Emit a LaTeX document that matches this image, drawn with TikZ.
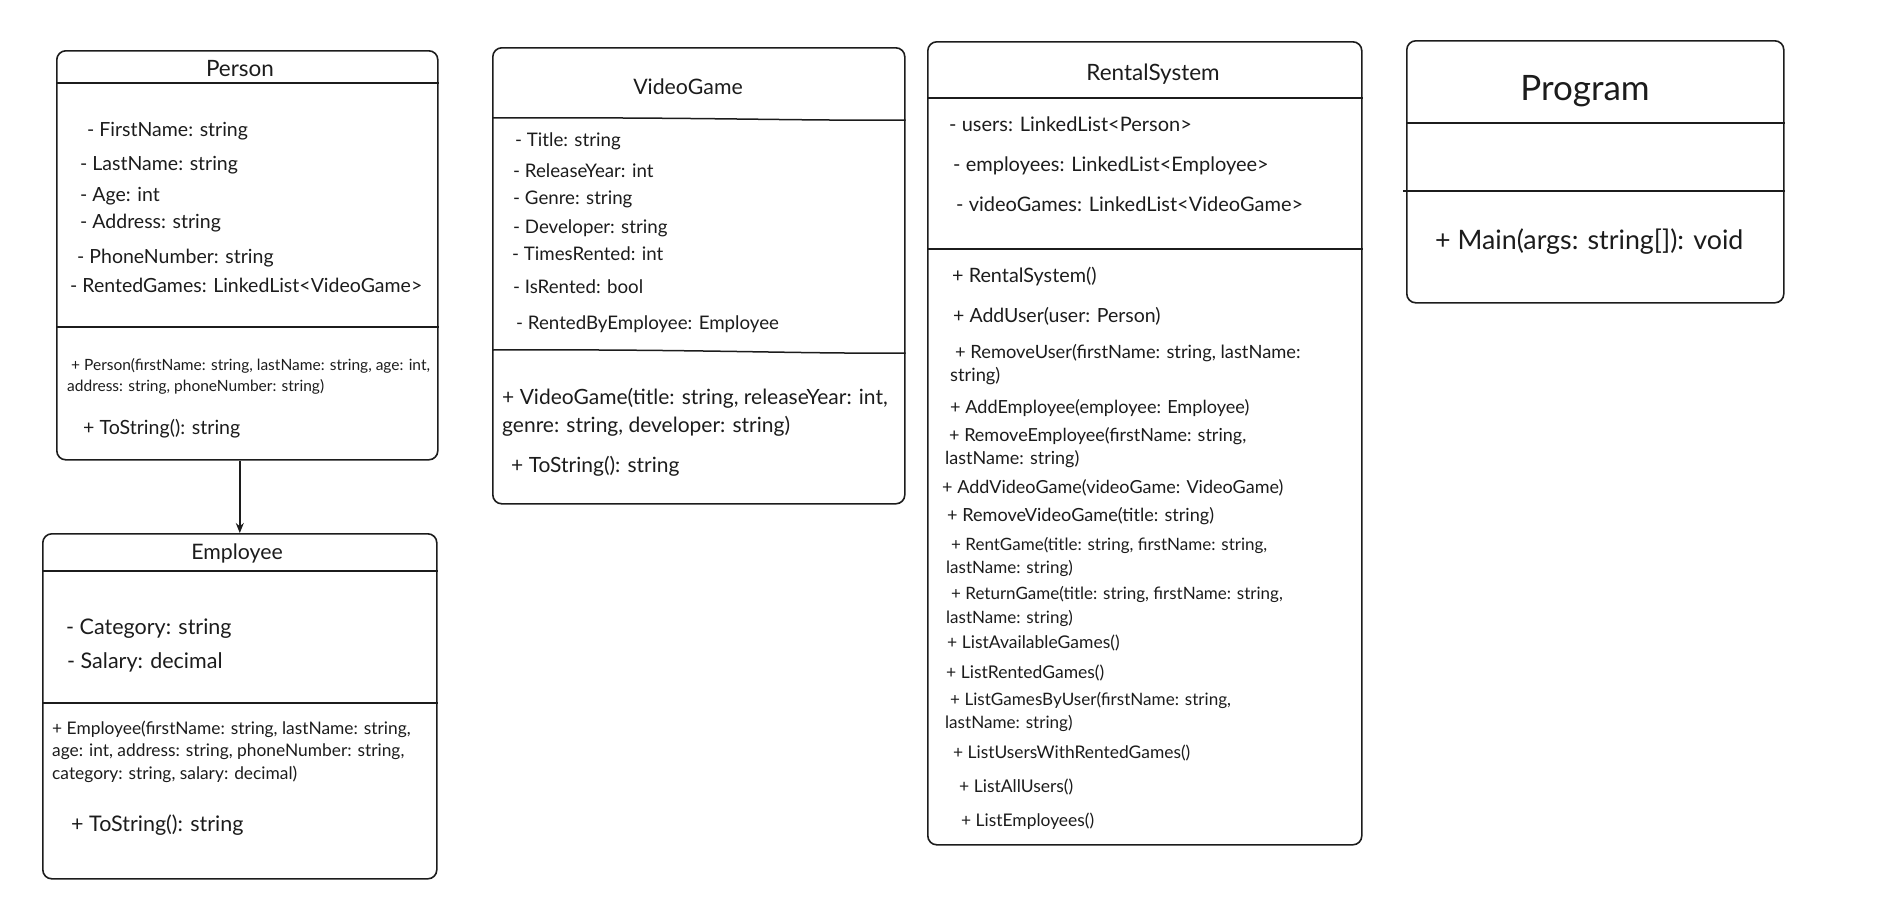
\documentclass[tikz,border=0pt]{standalone}
\usepackage{fontspec}
\setmainfont{Lato}
\usetikzlibrary{arrows.meta}
\definecolor{ink}{RGB}{28,28,28}
\newcommand\fz[1]{\fontsize{#1pt}{#1pt}\selectfont\vphantom{Ag}}
\tikzset{
  classbox/.style={draw=ink, line width=1.6pt, rounded corners=9pt, anchor=north west, inner sep=0pt},
  sepline/.style={draw=ink, line width=1.5pt},
  txt/.style={anchor=west, inner sep=0pt, text=ink},
  ttl/.style={anchor=center, inner sep=0pt, text=ink},
  assoc/.style={draw=ink, line width=1.5pt, -{Stealth[length=10pt,width=8pt]}},
}
\begin{document}
\begin{tikzpicture}[x=1pt,y=-1pt]
\useasboundingbox (0,0) rectangle (1880,908);
% ---------- Person ----------
\node[classbox, minimum width=381pt, minimum height=409pt] (person) at (56,50) {};
\draw[sepline] (person.west |- 0,83) -- (person.east |- 0,83);
\draw[sepline] (person.west |- 0,327) -- (person.east |- 0,327);
\node[ttl] (personT) at (240,70) {\fz{22.5}Person};
\node[txt] (pa1) at (87,131) {\fz{19.5}- FirstName: string};
\node[txt] (pa2) at (80,165) {\fz{19.5}- LastName: string};
\node[txt] (pa3) at (80,196) {\fz{19.5}- Age: int};
\node[txt] (pa4) at (80,223) {\fz{19.5}- Address: string};
\node[txt] (pa5) at (77,258) {\fz{19.5}- PhoneNumber: string};
\node[txt] (pa6) at (70,287) {\fz{19.5}- RentedGames: LinkedList<VideoGame>};
\node[txt] (pm1) at (71,366) {\fz{15.5}+ Person(firstName: string, lastName: string, age: int,};
\node[txt] (pm2) at (67,387) {\fz{15.5}address: string, phoneNumber: string)};
\node[txt] (pm3) at (83,429) {\fz{19.6}+ ToString(): string};
% ---------- Employee ----------
\node[classbox, minimum width=394pt, minimum height=345pt] (employee) at (42,533) {};
\draw[sepline] (employee.west |- 0,571) -- (employee.east |- 0,571);
\draw[sepline] (employee.west |- 0,703) -- (employee.east |- 0,703);
\node[ttl] (employeeT) at (237,554) {\fz{21.3}Employee};
\node[txt] (ea1) at (66,629) {\fz{21.5}- Category: string};
\node[txt] (ea2) at (67,663) {\fz{21.5}- Salary: decimal};
\node[txt] (em1) at (52,729) {\fz{17.35}+ Employee(firstName: string, lastName: string,};
\node[txt] (em2) at (52,752) {\fz{17.35}age: int, address: string, phoneNumber: string,};
\node[txt] (em3) at (52,774) {\fz{17.35}category: string, salary: decimal)};
\node[txt] (em4) at (71,825) {\fz{21.5}+ ToString(): string};
% ---------- VideoGame ----------
\node[classbox, minimum width=412pt, minimum height=456pt] (videogame) at (492,47) {};
\draw[sepline] (videogame.west |- 0,118) .. controls (700,117) and (800,121) .. (videogame.east |- 0,120);
\draw[sepline] (videogame.west |- 0,350) .. controls (700,349) and (800,354) .. (videogame.east |- 0,353);
\node[ttl] (videogameT) at (688,89) {\fz{21.3}VideoGame};
\node[txt] (va1) at (515,141) {\fz{18.7}- Title: string};
\node[txt] (va2) at (513,172) {\fz{18.7}- ReleaseYear: int};
\node[txt] (va3) at (513,199) {\fz{18.7}- Genre: string};
\node[txt] (va4) at (513,228) {\fz{18.7}- Developer: string};
\node[txt] (va5) at (512,255) {\fz{18.7}- TimesRented: int};
\node[txt] (va6) at (513,288) {\fz{18.7}- IsRented: bool};
\node[txt] (va7) at (516,324) {\fz{18.7}- RentedByEmployee: Employee};
\node[txt] (vm1) at (502,398) {\fz{21}+ VideoGame(title: string, releaseYear: int,};
\node[txt] (vm2) at (502,426) {\fz{21}genre: string, developer: string)};
\node[txt] (vm3) at (511,466) {\fz{21}+ ToString(): string};
% ---------- RentalSystem ----------
\node[classbox, minimum width=434pt, minimum height=803pt] (rental) at (927,41) {};
\draw[sepline] (rental.west |- 0,98) -- (rental.east |- 0,98);
\draw[sepline] (rental.west |- 0,249) -- (rental.east |- 0,249);
\node[ttl] (rentalT) at (1153,74) {\fz{22.5}RentalSystem};
\node[txt] (ra1) at (949,126) {\fz{20}- users: LinkedList<Person>};
\node[txt] (ra2) at (953,166) {\fz{20}- employees: LinkedList<Employee>};
\node[txt] (ra3) at (956,206) {\fz{20}- videoGames: LinkedList<VideoGame>};
\node[txt] (rm1) at (952,277) {\fz{19.8}+ RentalSystem()};
\node[txt] (rm2) at (953,317) {\fz{19.5}+ AddUser(user: Person)};
\node[txt] (rm3) at (955,353) {\fz{18.3}+ RemoveUser(firstName: string, lastName:};
\node[txt] (rm3b) at (950,376) {\fz{18.3}string)};
\node[txt] (rm4) at (950,408) {\fz{18.1}+ AddEmployee(employee: Employee)};
\node[txt] (rm5) at (949,436) {\fz{18}+ RemoveEmployee(firstName: string,};
\node[txt] (rm5b) at (945,459) {\fz{18}lastName: string)};
\node[txt] (rm6) at (942,488) {\fz{18}+ AddVideoGame(videoGame: VideoGame)};
\node[txt] (rm7) at (947,516) {\fz{18.1}+ RemoveVideoGame(title: string)};
\node[txt] (rm8) at (951,545) {\fz{17}+ RentGame(title: string, firstName: string,};
\node[txt] (rm8b) at (946,568) {\fz{17}lastName: string)};
\node[txt] (rm9) at (951,594) {\fz{17}+ ReturnGame(title: string, firstName: string,};
\node[txt] (rm9b) at (946,618) {\fz{17}lastName: string)};
\node[txt] (rm10) at (947,643) {\fz{17.5}+ ListAvailableGames()};
\node[txt] (rm11) at (946,673) {\fz{17.5}+ ListRentedGames()};
\node[txt] (rm12) at (950,700) {\fz{17.1}+ ListGamesByUser(firstName: string,};
\node[txt] (rm12b) at (945,723) {\fz{17.1}lastName: string)};
\node[txt] (rm13) at (953,753) {\fz{17.4}+ ListUsersWithRentedGames()};
\node[txt] (rm14) at (959,787) {\fz{17.5}+ ListAllUsers()};
\node[txt] (rm15) at (961,821) {\fz{17.4}+ ListEmployees()};
% ---------- Program ----------
\node[classbox, minimum width=377pt, minimum height=262pt] (program) at (1406,40) {};
\draw[sepline] (program.west |- 0,123) -- (program.east |- 0,123);
\draw[sepline] (1403,191) -- (program.east |- 0,191);
\node[ttl] (programT) at (1585,91) {\fz{35}Program};
\node[txt] (prm1) at (1435,242) {\fz{26.8}+ Main(args: string[]): void};
% ---------- connector ----------
\draw[assoc] (person.south -| employee.north) -- (employee.north);
\end{tikzpicture}
\end{document}
